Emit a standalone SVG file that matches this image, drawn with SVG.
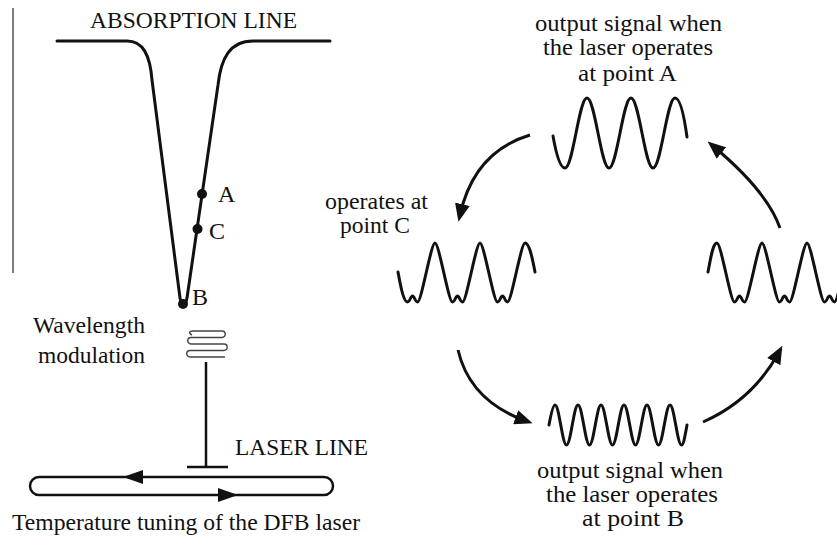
<svg xmlns="http://www.w3.org/2000/svg" width="837" height="547" viewBox="0 0 837 547">
<style>
  .t { font-family: "Liberation Serif", "Times New Roman", serif; font-size: 24px; fill: #111; }
  .ln { fill: none; stroke: #111; stroke-width: 3; stroke-linecap: round; stroke-linejoin: round; }
  .wave { fill: none; stroke: #111; stroke-width: 3; stroke-linecap: round; stroke-linejoin: round; }
  .arr { fill: none; stroke: #111; stroke-width: 3; stroke-linecap: butt; }
  .dot { fill: #111; }
</style>
<defs>
  <marker id="ah" markerUnits="userSpaceOnUse" markerWidth="18" markerHeight="15" viewBox="0 0 18 15" refX="11" refY="7.5" orient="auto">
    <path d="M0,0 L18,7.5 L0,15 Z" fill="#111"/>
  </marker>
</defs>
<rect width="837" height="547" fill="#fff"/>

<g id="frame-line">
  <line x1="13" y1="8" x2="13" y2="273" stroke="#555" stroke-width="1.5"/>
</g>

<g id="absorption-line">
  <text class="t" x="90" y="28" textLength="207" lengthAdjust="spacingAndGlyphs">ABSORPTION LINE</text>
  <path class="ln" d="M57,41 L127,41 C143,41 150,55 152,80 L180,298 C181,305 186,305 187,298 L218,85 C221,58 230,41 253,41 L330,41"/>
</g>

<g id="point-A">
  <circle class="dot" cx="202" cy="194" r="5"/>
  <text class="t" x="218" y="202" font-size="23">A</text>
</g>
<g id="point-C">
  <circle class="dot" cx="197.5" cy="229" r="5"/>
  <text class="t" x="209" y="239" font-size="23">C</text>
</g>
<g id="point-B">
  <circle class="dot" cx="183" cy="304" r="5"/>
  <text class="t" x="192" y="305" font-size="23">B</text>
</g>

<g id="wavelength-modulation">
  <text class="t" x="33" y="333" textLength="112" lengthAdjust="spacingAndGlyphs">Wavelength</text>
  <text class="t" x="38" y="363" textLength="107" lengthAdjust="spacingAndGlyphs">modulation</text>
  <path d="M192,335 C188.5,333.5 189,331 193,331 L222,331 A3.25,3.25 0 0 1 222,337.5 L191,337.5 A3.25,3.25 0 0 0 191,344 L224,344 A3.25,3.25 0 0 1 224,350.5 L190,350.5 A3.25,3.25 0 0 0 190,357 L225,357" fill="none" stroke="#444" stroke-width="1.4"/>
</g>

<g id="laser-line">
  <text class="t" x="235" y="455" textLength="133" lengthAdjust="spacingAndGlyphs">LASER LINE</text>
  <line x1="206" y1="362" x2="206" y2="467" stroke="#111" stroke-width="2.5"/>
  <line x1="187" y1="467" x2="228" y2="467" stroke="#111" stroke-width="2.5"/>
</g>

<g id="temperature-tuning">
  <rect x="30" y="477" width="303" height="18" rx="9" ry="9" fill="none" stroke="#111" stroke-width="2.5"/>
  <polygon points="123,477 143,470 143,484" fill="#111"/>
  <polygon points="238,495 218,488 218,502" fill="#111"/>
  <text class="t" x="12" y="530" textLength="348" lengthAdjust="spacingAndGlyphs">Temperature tuning of the DFB laser</text>
</g>

<g id="signal-A">
  <text class="t" x="628.5" y="31" text-anchor="middle" textLength="187" lengthAdjust="spacingAndGlyphs">output signal when</text>
  <text class="t" x="628" y="55" text-anchor="middle" textLength="170" lengthAdjust="spacingAndGlyphs">the laser operates</text>
  <text class="t" x="627.5" y="81" text-anchor="middle" textLength="99" lengthAdjust="spacingAndGlyphs">at point A</text>
  <path class="wave" d="M553,136 C556,153 560,168 565,168 C573,168 579,98 587,98 C595,98 601,168 609,168 C617,168 623,98 631,98 C639,98 645,168 653,168 C661,168 667,98 675,98 C680,98 684,115 687,137"/>
</g>

<g id="signal-C">
  <text class="t" x="376.5" y="209" text-anchor="middle" textLength="103" lengthAdjust="spacingAndGlyphs">operates at</text>
  <text class="t" x="375" y="233" text-anchor="middle" textLength="70" lengthAdjust="spacingAndGlyphs">point C</text>
  <path class="wave" d="M398,272 C401,289 404,302 407.5,302 C410,302 410.5,296 412.5,296 C414.5,296 415,302 417.5,302 C421.5,302 431,243 435,243 C439,243 448.5,302 452.5,302 C455,302 455.5,296 457.5,296 C459.5,296 460,302 462.5,302 C466.5,302 476,243 480,243 C484,243 493.5,302 497.5,302 C500,302 500.5,296 502.5,296 C504.5,296 505,302 507.5,302 C511.5,302 521,243 525,243 C529,243 532,256 535,272"/>
</g>

<g id="signal-right">
  <path class="wave" d="M708,272 C711,256 713,243 717,243 C721,243 730.5,302 734.5,302 C737,302 737.5,296 739.5,296 C741.5,296 742,302 744.5,302 C748.5,302 758,243 762,243 C766,243 775.5,302 779.5,302 C782,302 782.5,296 784.5,296 C786.5,296 787,302 789.5,302 C793.5,302 803,243 807,243 C811,243 820.5,302 824.5,302 C827,302 827.5,296 829.5,296 C831.5,296 832,302 834.5,302 C838.5,302 848,243 852,243"/>
</g>

<g id="signal-B">
  <path class="wave" d="M549,425 C551,414 553,405 555,405 C559.2,405 562.3,445 566.5,445 C570.7,445 573.8,405 578,405 C582.2,405 585.3,445 589.5,445 C593.7,445 596.8,405 601,405 C605.2,405 608.3,445 612.5,445 C616.7,445 619.8,405 624,405 C628.2,405 631.3,445 635.5,445 C639.7,445 642.8,405 647,405 C651.2,405 654.3,445 658.5,445 C662.7,445 665.8,405 670,405 C674.2,405 677.3,445 681.5,445 C683.5,445 685,436 687,425"/>
  <text class="t" x="630" y="478" text-anchor="middle" textLength="186" lengthAdjust="spacingAndGlyphs">output signal when</text>
  <text class="t" x="632" y="502" text-anchor="middle" textLength="172" lengthAdjust="spacingAndGlyphs">the laser operates</text>
  <text class="t" x="633" y="526" text-anchor="middle" textLength="102" lengthAdjust="spacingAndGlyphs">at point B</text>
</g>

<g id="connectors">
  <path class="arr" d="M530,135 Q474,152 460,215" marker-end="url(#ah)"/>
  <path class="arr" d="M780,228 Q767,191 713,146" marker-end="url(#ah)"/>
  <path class="arr" d="M458,350 Q470,401 526,421" marker-end="url(#ah)"/>
  <path class="arr" d="M703,422 Q753,400 779,352" marker-end="url(#ah)"/>
</g>
</svg>
